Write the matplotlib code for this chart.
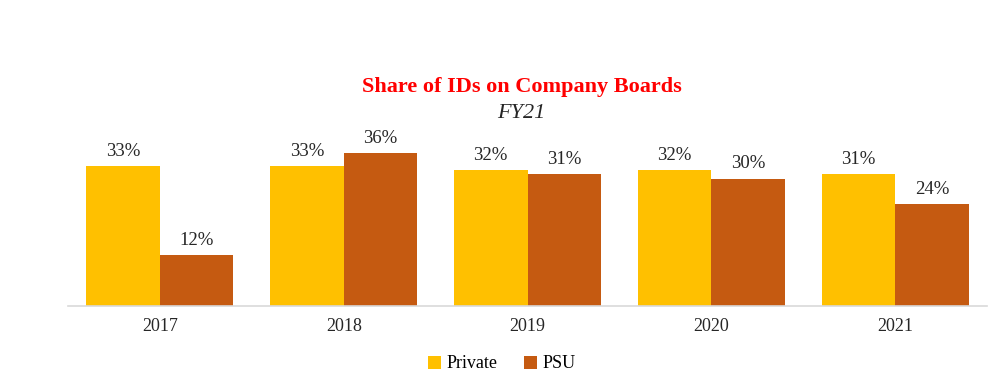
import matplotlib.pyplot as plt
import numpy as np

years = ['2017', '2018', '2019', '2020', '2021']
private = [33, 33, 32, 32, 31]
psu = [12, 36, 31, 30, 24]

plt.rcParams['font.family'] = ['Liberation Serif', 'DejaVu Serif']

fig = plt.figure(figsize=(10, 3.9), dpi=100)
ax = fig.add_axes([0.068, 0.2154, 0.919, 0.4256])

x = np.arange(len(years))
w = 0.4
b1 = ax.bar(x - w / 2, private, w, color='#FFC000', label='Private')
b2 = ax.bar(x + w / 2, psu, w, color='#C55A11', label='PSU')

for bars in (b1, b2):
    for b in bars:
        ax.text(b.get_x() + b.get_width() / 2, b.get_height() + 1.5,
                f'{b.get_height():.0f}%', ha='center', va='bottom',
                fontsize=13.5, color='#262626')

ax.set_xlim(-0.5, 4.5)
ax.set_ylim(0, 39.1)
ax.set_xticks(x)
ax.set_xticklabels(years, fontsize=13, color='#262626')
ax.set_yticks([])
ax.tick_params(axis='x', length=0, pad=9)
for s in ['top', 'right', 'left']:
    ax.spines[s].set_visible(False)
ax.spines['bottom'].set_color('#D9D9D9')
ax.spines['bottom'].set_linewidth(1.2)

fig.text(0.522, 1 - 87 / 390, 'Share of IDs on Company Boards', ha='center', va='center',
         fontsize=16, fontweight='bold', color='#FF0000')
fig.text(0.521, 1 - 113 / 390, 'FY21', ha='center', va='center',
         fontsize=16, style='italic', color='#262626')

fig.legend(handles=[b1, b2], loc='center', bbox_to_anchor=(0.502, 1 - 364 / 390),
           ncol=2, frameon=False, fontsize=13, handlelength=0.7, handleheight=0.7,
           handletextpad=0.3, columnspacing=1.5)

fig.savefig('out.png', dpi=100)
